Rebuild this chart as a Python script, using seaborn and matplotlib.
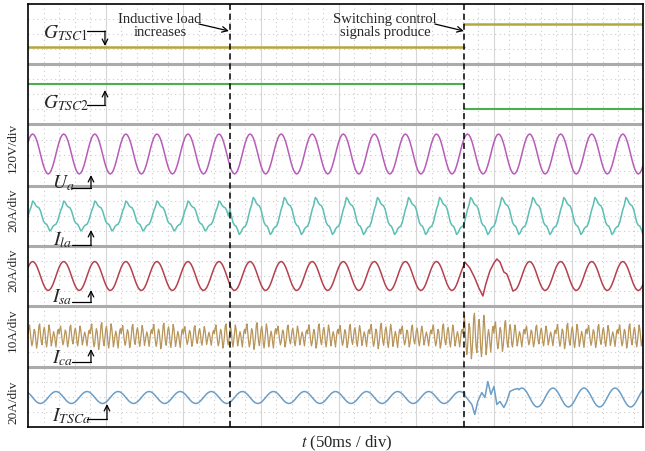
import numpy as np
import pandas as pd
import seaborn as sns
import matplotlib
matplotlib.use("Agg")
import matplotlib.pyplot as plt

#Scope data (time in ms, amplitudes in screen px)
t_end = 396
events = [130, 281]  # inductive load increases / switching control signals produce

#one 20 ms cycle, 1 ms per sample, index 0 = positive peak
sine_cycle = [1.0, 0.95, 0.81, 0.59, 0.31, 0.0, -0.31, -0.59, -0.81, -0.95,
              -1.0, -0.95, -0.81, -0.59, -0.31, 0.0, 0.31, 0.59, 0.81, 0.95]
ila_cycle = [1.0, 0.9, 0.7, 0.6, 0.55, 0.35, 0.0, -0.35, -0.5, -0.55,
             -0.75, -1.0, -0.9, -0.7, -0.6, -0.55, -0.35, 0.0, 0.35, 0.6]
#I_ca cycle, 0.5 ms per sample, and a gain per 20 ms cycle
ica_cycle = [2, 7, 10, 3, -4, -9, -6, 1, 6, 4, -3, -11, -7, 0, 9, 11, 2, -5, -8, -2,
             5, 8, 3, -6, -10, -4, 3, 10, 6, -2, -9, -5, 0, 4, 1, -5, -10, -3, 4, 6]
ica_cycle_gain = [1.0, 0.9, 1.1, 0.95, 1.05, 0.85, 1.0, 1.1, 0.9, 1.0,
                  0.95, 1.05, 0.9, 1.0, 1.15, 1.0, 0.9, 1.05, 0.95, 1.0]

#gate signals
gate_edges = [0, 281, 396]
g_tsc1 = [0, 1]
g_tsc2 = [1, 0]

ua_amp = 20
ua_peak = 3

ila_start = [0, 130]
ila_amp = [15, 18.5]
ila_peak = [3, 5]

isa_amp = 14.5
isa_peak = 3
isa_tr_t = [281.3, 284.5, 287.7, 290.3, 292.9, 294.8, 297.4, 300.0, 301.9, 303.9, 306.4, 308.3, 310.3, 312.2]
isa_tr_v = [14, 8, -2, -12, -20, -8, 5, 13, 17, 14, 4, 2, -6, -15]

ica_start = [0, 281, 296, 312]
ica_gain = [1.1, 1.8, 1.4, 1.1]

itsc_start = [0, 281]
itsc_amp = [6, 9.5]
itsc_peak = 18
itsc_tr_t = [281.3, 285.8, 287.7, 289.6, 292.2, 294.2, 296.1, 298.1, 300.0, 301.9, 303.9, 306.4, 308.3, 310.3, 312.9, 315.4]
itsc_tr_v = [2, -7, -17, -4, 5, 0, 16, 3, 11, -7, -4, -10, -4, 6, 8, 9]

#screen layout (px from top of picture)
panels = [5, 65, 125, 187, 247, 307, 368, 428]
centers = {'Ua': 155, 'Ila': 217, 'Isa': 277, 'Ica': 337, 'Itsc': 398.5}
px_per_ms = 1.5536


def px2t(x):
    return (x - 28) / px_per_ms


def periodic(t, cycle, step, peak):
    idx = np.round((t - peak) / step).astype(int) % len(cycle)
    return np.array(cycle)[idx]


def segment(t, starts):
    return np.searchsorted(starts, t, side='right') - 1


def splice(t, y, tr_t, tr_v):
    keep = (t < tr_t[0]) | (t > tr_t[-1])
    tt = np.concatenate([t[keep], tr_t])
    yy = np.concatenate([y[keep], tr_v])
    order = np.argsort(tt)
    return tt[order], yy[order]


t1 = np.arange(0, t_end + 1, 1.0)
t2 = np.arange(0, t_end + 0.5, 0.5)

ua = ua_amp * periodic(t1, sine_cycle, 1, ua_peak)

s = segment(t1, ila_start)
ila = np.array([ila_amp[k] * ila_cycle[int(round(tt - ila_peak[k])) % 20] for tt, k in zip(t1, s)])

isa_t, isa = splice(t1, isa_amp * periodic(t1, sine_cycle, 1, isa_peak), isa_tr_t, isa_tr_v)

cyc = np.minimum((t2 // 20).astype(int), len(ica_cycle_gain) - 1)
ica = np.array(ica_gain)[segment(t2, ica_start)] * np.array(ica_cycle_gain)[cyc] * periodic(t2, ica_cycle, 0.5, 0)

itsc_base = np.array(itsc_amp)[segment(t1, itsc_start)] * periodic(t1, sine_cycle, 1, itsc_peak)
itsc_t, itsc = splice(t1, itsc_base, itsc_tr_t, itsc_tr_v)

sns.set_style('white')
plt.rcParams['font.family'] = ['Liberation Serif', 'DejaVu Serif']
plt.rcParams['mathtext.fontset'] = 'stix'

fig = plt.figure(figsize=(6.45, 4.52), dpi=100)
ax = fig.add_axes([28 / 645, 24 / 452, 615 / 645, 423 / 452])
ax.set_xlim(0, t_end)
ax.set_ylim(428, 5)
ax.set_xticks([])
ax.set_yticks([])
for sp in ax.spines.values():
    sp.set_color('black')
    sp.set_linewidth(1.2)

#scope grid
for tg in range(10, t_end, 10):
    if tg % 50 == 0:
        ax.axvline(tg, color='#d6d6d6', lw=0.8, zorder=0)
    else:
        ax.axvline(tg, color='#cccccc', lw=0.8, ls=(0, (1, 3)), zorder=0)
for top, bot in zip(panels[:-1], panels[1:]):
    for q in [0.25, 0.5, 0.75]:
        ax.axhline(top + (bot - top) * q, color='#cccccc', lw=0.8, ls=(0, (1, 3)), zorder=0)
for y in panels[1:-1]:
    ax.axhline(y, color='#ababab', lw=2.2, zorder=1)

#gate signals
for k in range(2):
    xs = [gate_edges[k], gate_edges[k + 1]]
    sns.lineplot(x=xs, y=[48 - 23 * g_tsc1[k]] * 2, color='#b3a83a', lw=1.8, ax=ax)
    sns.lineplot(x=xs, y=[110 - 25 * g_tsc2[k]] * 2, color='#4cae4c', lw=1.5, ax=ax)

traces = [
    (t1, centers['Ua'] - ua, '#b75cb8', 1.1),
    (t1, centers['Ila'] - ila, '#5cbfb5', 1.1),
    (isa_t, centers['Isa'] - isa, '#b5404e', 1.1),
    (t2, centers['Ica'] - ica, '#b8955a', 0.9),
    (itsc_t, centers['Itsc'] - itsc, '#6c9ec8', 1.1),
]
for tx, ty, col, w in traces:
    sns.lineplot(x=tx, y=ty, color=col, lw=w, ax=ax, estimator=None, sort=False)

for ev in events:
    ax.axvline(ev, color='black', lw=1.1, ls=(0, (4, 2.5)), zorder=5)

#signal tags with elbow arrows
tags = [
    (r'$G_{\mathit{TSC1}}$', 43, 33, 87, 105, 32, 47),
    (r'$G_{\mathit{TSC2}}$', 43, 103, 87, 105, 106, 91),
    (r'$U_a$', 52, 183, 72, 91, 189, 176),
    (r'$I_{la}$', 53, 240, 72, 91, 246, 231),
    (r'$I_{sa}$', 52, 297, 72, 91, 303, 291),
    (r'$I_{ca}$', 52, 358, 72, 91, 363, 350),
    (r'$I_{TSCa}$', 52, 416, 87, 107, 420, 405),
]
for lab, xt, yt, x0, x1, yl, ytip in tags:
    ax.text(px2t(xt), yt, lab, ha='left', va='center', fontsize=14, zorder=6)
    ax.plot([px2t(x0), px2t(x1)], [yl, yl], color='black', lw=0.9, zorder=6)
    ax.annotate('', xy=(px2t(x1), ytip), xytext=(px2t(x1), yl),
                arrowprops=dict(arrowstyle='->', color='black', lw=0.9, shrinkA=0, shrinkB=0), zorder=6)

#event notes
ax.text(px2t(160), 26, 'Inductive load\nincreases', ha='center', va='center', fontsize=10.5, linespacing=1.05)
ax.annotate('', xy=(px2t(229), 32), xytext=(px2t(199), 25),
            arrowprops=dict(arrowstyle='->', color='black', lw=0.9, shrinkA=0, shrinkB=0))
ax.text(px2t(385), 26, 'Switching control\nsignals produce', ha='center', va='center', fontsize=10.5, linespacing=1.05)
ax.annotate('', xy=(px2t(464), 32), xytext=(px2t(435), 25),
            arrowprops=dict(arrowstyle='->', color='black', lw=0.9, shrinkA=0, shrinkB=0))

#channel scales
for lab, yc in [('120V/div', 148), ('20A/div', 210), ('20A/div', 270), ('10A/div', 330), ('20A/div', 402)]:
    fig.text(13 / 645, 1 - yc / 452, lab, rotation=90, ha='center', va='center', fontsize=9.5)

fig.text(347 / 645, 1 - 443 / 452, '$t$ (50ms / div)', ha='center', va='center', fontsize=12)

plt.savefig('out.png', dpi=100)
